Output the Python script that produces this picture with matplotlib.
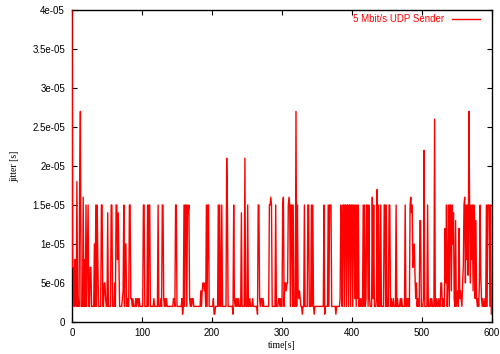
import matplotlib
matplotlib.use("Agg")
import matplotlib.pyplot as plt
import numpy as np

# jitter values in units of 1e-6 s, one sample per second (t = 0 .. 600)
jitter_us = [
    40, 7, 7, 2, 8, 8, 2, 18, 2, 3, 2, 18, 27, 2, 2, 2, 16, 2, 8, 2,
    15, 2, 9, 15, 2, 2, 7, 7, 2, 2, 2, 2, 10, 2, 15, 2, 15, 7, 2, 2,
    2, 2, 15, 15, 2, 2, 5, 5, 3, 2, 2, 14, 2, 2, 2, 2, 15, 15, 2, 2,
    2, 5, 2, 15, 15, 8, 14, 8, 2, 2, 2, 2, 3, 4, 15, 2, 10, 10, 2, 3,
    2, 2, 15, 15, 3, 3, 2, 3, 2, 2, 2, 3, 2, 3, 3, 2, 3, 2, 2, 2,
    2, 2, 15, 15, 2, 2, 2, 2, 15, 2, 15, 15, 2, 2, 2, 2, 2, 3, 2, 2,
    2, 2, 2, 15, 2, 2, 2, 3, 2, 15, 15, 3, 2, 3, 2, 3, 2, 2, 2, 2,
    2, 2, 2, 2, 2, 3, 3, 2, 15, 15, 2, 2, 2, 2, 2, 2, 2, 3, 1, 2,
    15, 2, 15, 15, 2, 15, 14, 15, 3, 2, 3, 2, 3, 3, 2, 2, 2, 2, 2, 2,
    2, 2, 2, 2, 4, 2, 4, 5, 5, 4, 5, 2, 15, 2, 15, 15, 2, 2, 2, 2,
    2, 2, 3, 1, 1, 2, 2, 2, 2, 15, 2, 15, 2, 2, 15, 2, 2, 2, 2, 2,
    2, 21, 15, 2, 2, 2, 2, 2, 2, 2, 1, 15, 3, 2, 3, 2, 3, 2, 3, 2,
    2, 2, 14, 2, 2, 2, 2, 21, 2, 2, 2, 15, 2, 2, 3, 2, 2, 2, 3, 2,
    2, 2, 2, 2, 2, 1, 15, 15, 3, 2, 3, 3, 2, 3, 2, 2, 2, 2, 2, 2,
    2, 2, 15, 15, 16, 15, 2, 2, 2, 2, 2, 15, 2, 2, 2, 3, 3, 2, 3, 2,
    2, 15, 16, 2, 5, 5, 4, 5, 5, 15, 16, 15, 2, 15, 15, 2, 15, 2, 2, 2,
    27, 2, 15, 4, 3, 4, 3, 2, 2, 1, 2, 2, 15, 2, 2, 2, 2, 15, 15, 2,
    2, 2, 15, 2, 15, 2, 1, 2, 2, 2, 2, 2, 2, 2, 2, 2, 2, 2, 2, 2,
    15, 1, 2, 2, 2, 2, 15, 2, 15, 15, 15, 2, 2, 2, 2, 2, 2, 1, 2, 2,
    2, 2, 2, 3, 15, 14, 2, 15, 15, 2, 15, 15, 2, 15, 15, 2, 15, 15, 2, 15,
    15, 2, 15, 15, 3, 15, 2, 15, 3, 15, 2, 3, 2, 3, 2, 2, 15, 2, 15, 2,
    3, 15, 15, 2, 15, 3, 2, 2, 2, 16, 3, 15, 2, 2, 2, 3, 17, 2, 15, 2,
    2, 15, 2, 2, 2, 2, 15, 15, 2, 15, 2, 3, 2, 15, 15, 2, 3, 2, 2, 3,
    2, 2, 2, 15, 2, 3, 2, 2, 2, 3, 2, 3, 2, 2, 2, 2, 15, 2, 2, 3,
    2, 3, 2, 15, 16, 14, 15, 7, 8, 10, 6, 3, 5, 2, 3, 2, 2, 13, 13, 2,
    2, 2, 3, 22, 2, 2, 2, 2, 15, 2, 2, 2, 3, 2, 3, 2, 2, 2, 26, 2,
    2, 3, 2, 2, 3, 2, 2, 5, 5, 2, 3, 2, 2, 12, 5, 15, 2, 5, 15, 2,
    15, 15, 4, 15, 10, 14, 3, 2, 13, 2, 3, 4, 2, 12, 3, 4, 3, 2, 5, 7,
    15, 16, 5, 15, 8, 15, 6, 27, 15, 5, 15, 8, 15, 4, 15, 14, 3, 13, 3, 2,
    3, 2, 5, 15, 6, 3, 2, 3, 2, 2, 3, 2, 15, 2, 15, 15, 15, 2, 15, 1,
    1,
]
time_s = np.arange(len(jitter_us))
jitter = np.array(jitter_us) * 1e-6

series_label = "5 Mbit/s UDP Sender"
xticks = [0, 100, 200, 300, 400, 500, 600]
yticks = [0, 5e-6, 1e-5, 1.5e-5, 2e-5, 2.5e-5, 3e-5, 3.5e-5, 4e-5]
ytick_labels = ["0", "5e-06", "1e-05", "1.5e-05", "2e-05", "2.5e-05",
                "3e-05", "3.5e-05", "4e-05"]

sans = ["Liberation Sans", "DejaVu Sans"]
serif = ["Liberation Serif", "DejaVu Serif"]

fig = plt.figure(figsize=(5.0, 3.54), dpi=100)
ax = fig.add_axes([72 / 500, 1 - 322 / 354, 420 / 500, 312 / 354])

ax.plot(time_s, jitter, color="#ff0000", lw=1.0, label=series_label, zorder=3)

ax.set_xlim(0, 600)
ax.set_ylim(0, 4e-5)
ax.set_xticks(xticks)
ax.set_xticklabels([str(v) for v in xticks], fontfamily=sans, fontsize=7)
ax.set_yticks(yticks)
ax.set_yticklabels(ytick_labels, fontfamily=sans, fontsize=7)
ax.tick_params(direction="in", length=3.5, width=0.8, top=True, right=True,
               pad=5, colors="black")
ax.tick_params(axis="x", pad=4.5)
for s in ax.spines.values():
    s.set_linewidth(1.0)
    s.set_color("black")

ax.set_xlabel("time[s]", fontfamily=serif, fontsize=7, labelpad=2)
ax.set_ylabel("jitter [s]", fontfamily=serif, fontsize=7)
ax.yaxis.set_label_coords(-0.125, 0.5)

leg = ax.legend(loc="upper right", bbox_to_anchor=(1 - 12 / 420, 1 - 4 / 312),
                frameon=False, markerfirst=False, handlelength=2.9,
                handletextpad=0.75, borderpad=0, borderaxespad=0,
                prop={"family": sans, "size": 7}, labelcolor="#ff0000")

fig.savefig("out.png", dpi=100)
